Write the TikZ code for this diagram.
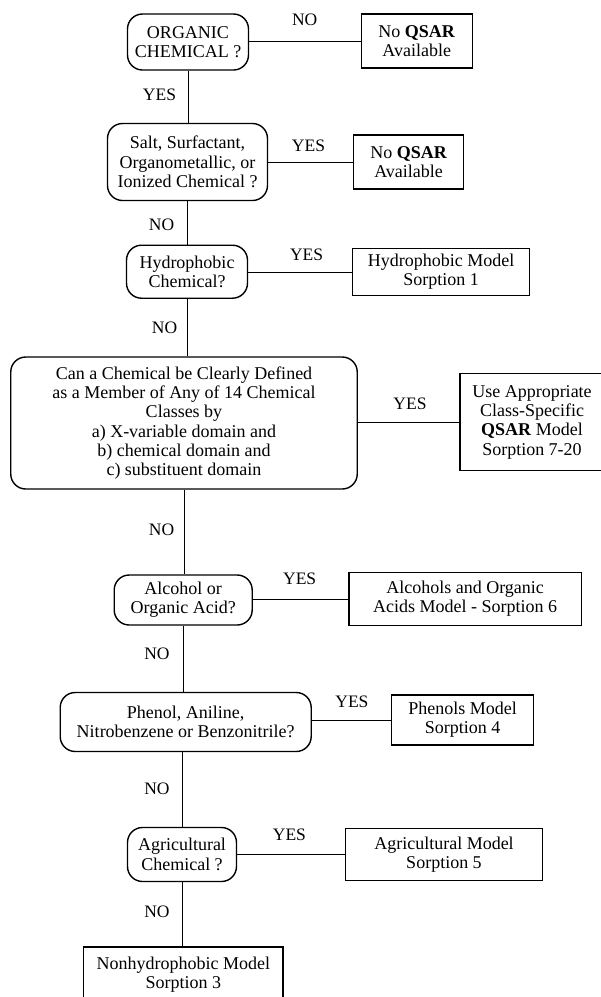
\documentclass[tikz,border=0pt]{standalone}
\usepackage{fontspec}
\setmainfont{Liberation Serif}
\begin{document}
\begin{tikzpicture}[x=1pt,y=-1pt,
  txt/.style={font=\fontsize{18}{19.3}\selectfont, align=center, inner sep=0pt},
  qbox/.style={txt, draw, line width=1.4pt, rounded corners=15pt},
  rbox/.style={txt, draw, line width=1.4pt},
  lbl/.style={font=\fontsize{17.5}{19}\selectfont, inner sep=0pt},
  conn/.style={line width=1pt}]
\useasboundingbox (0,0) rectangle (601,997);

% decision boxes
\node[qbox, minimum width=121pt, minimum height=56pt] (q1) at (188,42) {ORGANIC\\CHEMICAL ?};
\node[qbox, minimum width=160pt, minimum height=77pt] (q2) at (187.5,162) {Salt, Surfactant,\\Organometallic, or\\Ionized Chemical ?};
\node[qbox, minimum width=121pt, minimum height=53pt] (q3) at (187,271.7) {Hydrophobic\\Chemical?};
\node[qbox, minimum width=346.5pt, minimum height=132pt] (q4) at (184,423) {Can a Chemical be Clearly Defined\\as a Member of Any of 14 Chemical\\Classes by\\a) X-variable domain and\\b) chemical domain and\\c) substituent domain};
\node[qbox, minimum width=138pt, minimum height=50pt] (q5) at (183.2,600) {Alcohol or\\Organic Acid?};
\node[qbox, minimum width=251pt, minimum height=59pt] (q6) at (185.7,722) {Phenol, Aniline,\\Nitrobenzene or Benzonitrile?};
\node[qbox, minimum width=109pt, minimum height=54pt] (q7) at (182,854.5) {Agricultural\\Chemical ?};

% result boxes
\node[rbox, minimum width=111pt, minimum height=54pt] (r1) at (416.8,41) {No \textbf{QSAR}\\Available};
\node[rbox, minimum width=110pt, minimum height=54pt] (r2) at (408.6,162) {No \textbf{QSAR}\\Available};
\node[rbox, minimum width=177pt, minimum height=47pt] (r3) at (441.2,272) {Hydrophobic Model\\Sorption 1};
\node[rbox, minimum width=144pt, minimum height=97pt] (r4) at (532,422) {Use Appropriate\\Class-Specific\\\textbf{QSAR} Model\\Sorption 7-20};
\node[rbox, minimum width=232.6pt, minimum height=53pt] (r5) at (465.1,599) {Alcohols and Organic\\Acids Model - Sorption 6};
\node[rbox, minimum width=142pt, minimum height=50pt] (r6) at (462.6,720) {Phenols Model\\Sorption 4};
\node[rbox, minimum width=196.6pt, minimum height=52.4pt] (r7) at (444,854.5) {Agricultural Model\\Sorption 5};
\node[rbox, minimum width=199.3pt, minimum height=56pt] (r8) at (183.3,975) {Nonhydrophobic Model\\Sorption 3};

% horizontal connectors
\draw[conn] (r1.west -| q1.east) -- (r1.west);
\draw[conn] (r2.west -| q2.east) -- (r2.west);
\draw[conn] (r3.west -| q3.east) -- (r3.west);
\draw[conn] (r4.west -| q4.east) -- (r4.west);
\draw[conn] (r5.west -| q5.east) -- (r5.west);
\draw[conn] (r6.west -| q6.east) -- (r6.west);
\draw[conn] (r7.west -| q7.east) -- (r7.west);

% vertical connectors
\draw[conn] (q1.south) -- (q1.south |- q2.north);
\draw[conn] (q2.south) -- (q2.south |- q3.north);
\draw[conn] (q3.south) -- (q3.south |- q4.north);
\draw[conn] (q4.south) -- (q4.south |- q5.north);
\draw[conn] (q5.south) -- (q5.south |- q6.north);
\draw[conn] (q7.north |- q6.south) -- (q7.north);
\draw[conn] (q7.south) -- (q7.south |- r8.north);

% labels
\node[lbl] (n1) at (304.7,19.3) {NO};
\node[lbl] (y1) at (159.5,95) {YES};
\node[lbl] (y2) at (308.5,145.7) {YES};
\node[lbl] (n2) at (161.6,225) {NO};
\node[lbl] (y3) at (306.6,255) {YES};
\node[lbl] (n3) at (164.6,327.3) {NO};
\node[lbl] (y4) at (410,404) {YES};
\node[lbl] (n4) at (161.6,530) {NO};
\node[lbl] (y5) at (299.7,578.3) {YES};
\node[lbl] (n5) at (157,654) {NO};
\node[lbl] (y6) at (351.9,701.7) {YES};
\node[lbl] (n6) at (157,788.3) {NO};
\node[lbl] (y7) at (289.4,835) {YES};
\node[lbl] (n7) at (157,911.7) {NO};
\end{tikzpicture}
\end{document}
